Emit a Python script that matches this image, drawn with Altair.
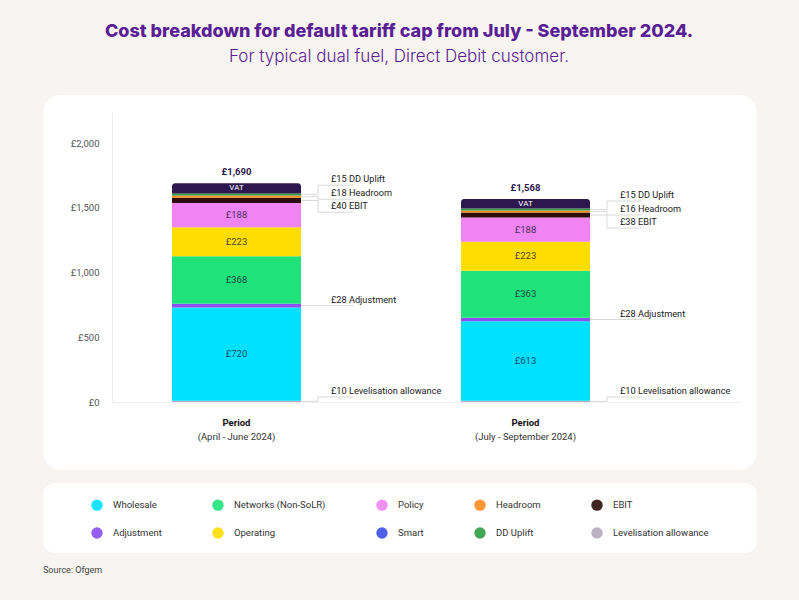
import altair as alt
import pandas as pd

# ---------------- data ----------------
periods = ["(April - June 2024)", "(July - September 2024)"]
components = ["Levelisation allowance", "Wholesale", "Adjustment", "Networks (Non-SoLR)",
              "Operating", "Policy", "EBIT", "Headroom", "DD Uplift", "VAT"]
apr_jun_values = [10, 720, 28, 368, 223, 188, 40, 18, 15, 80]
jul_sep_values = [10, 613, 28, 363, 223, 188, 38, 16, 15, 74]
totals = [1690, 1568]
legend_items = ["Wholesale", "Networks (Non-SoLR)", "Policy", "Headroom", "EBIT",
                "Adjustment", "Operating", "Smart", "DD Uplift", "Levelisation allowance"]
inside_labelled = ["Wholesale", "Networks (Non-SoLR)", "Operating", "Policy"]
callouts = ["DD Uplift", "Headroom", "EBIT", "Adjustment", "Levelisation allowance"]
y_ticks = [0, 500, 1000, 1500, 2000]

color_domain = ["Wholesale", "Networks (Non-SoLR)", "Policy", "Headroom", "EBIT",
                "Adjustment", "Operating", "Smart", "DD Uplift", "Levelisation allowance", "VAT"]
color_range = ["#00e1ff", "#1fe27b", "#ef84f2", "#ff8a1f", "#2c0d0b",
               "#8a4ef2", "#ffdd00", "#3b4fe6", "#2f9c45", "#b5a8b9", "#2d174f"]

TITLE = "Cost breakdown for default tariff cap from July - September 2024."
SUBTITLE = "For typical dual fuel, Direct Debit customer."
SOURCE = "Source: Ofgem"

# ---------------- layout ----------------
W, H = 799, 600
PAD_L, PAD_T = 112, 112
PLOT_W, PLOT_H = 630, 290
PAD_R = W - PAD_L - PLOT_W
PAD_B = H - PAD_T - PLOT_H
Y_MAX = 2240
PPU = PLOT_H / Y_MAX
BAR_LEFT0, BAR_STEP, BAR_W = 60, 289, 129
ELBOW, UNDER, TEXT_GAP = 17, 35, 13
TOP_CALLOUT_PX = {"DD Uplift": 2, "Headroom": 16, "EBIT": 29}
BOTTOM_CALLOUT_PX = 5

PURPLE = "#5a1e95"
FONT = "Inter"
SMALL = "Roboto"

rows, notes, tots = [], [], []
for i, (p, vals) in enumerate(zip(periods, [apr_jun_values, jul_sep_values])):
    left = BAR_LEFT0 + i * BAR_STEP
    base = 0
    for c, v in zip(components, vals):
        r = dict(period=p, component=c, value=v, y0=base, y1=base + v, ymid=base + v / 2,
                 x0=left, x1=left + BAR_W, xc=left + BAR_W / 2, label=f"£{v}")
        rows.append(r)
        if c in callouts:
            if c in TOP_CALLOUT_PX:
                line_y = totals[i] - TOP_CALLOUT_PX[c] / PPU
            elif c == "Adjustment":
                line_y = base + v / 2
            else:
                line_y = BOTTOM_CALLOUT_PX / PPU
            xe = left + BAR_W + ELBOW
            notes.append(dict(period=p, text=f"£{v} {c}", bx=left + BAR_W, ex=xe, ux=xe + UNDER,
                              tx=xe + TEXT_GAP, ymid=base + v / 2, line_y=line_y))
        base += v
    tots.append(dict(period=p, xc=left + BAR_W / 2, total=totals[i], label=f"£{totals[i]:,}"))

bars = pd.DataFrame(rows)
notes = pd.DataFrame(notes)
tots = pd.DataFrame(tots)

xs = alt.Scale(domain=[0, PLOT_W], nice=False, zero=False)
ys = alt.Scale(domain=[0, Y_MAX], nice=False)
one = pd.DataFrame({"k": [0]})

# background panels
panel = alt.Chart(one).mark_rect(color="white", cornerRadius=18).encode(
    x=alt.value(43 - PAD_L), x2=alt.value(757 - PAD_L),
    y=alt.value(95 - PAD_T), y2=alt.value(470 - PAD_T))
legend_panel = alt.Chart(one).mark_rect(color="white", cornerRadius=12).encode(
    x=alt.value(43 - PAD_L), x2=alt.value(757 - PAD_L),
    y=alt.value(483 - PAD_T), y2=alt.value(553 - PAD_T))

title_txt = alt.Chart(one).mark_text(text=TITLE, font=FONT, fontSize=18, fontWeight=800,
                                     color=PURPLE, align="center", baseline="middle").encode(
    x=alt.value(399 - PAD_L), y=alt.value(32 - PAD_T))
subtitle_txt = alt.Chart(one).mark_text(text=SUBTITLE, font=FONT, fontSize=17, fontWeight=300,
                                        color=PURPLE, align="center", baseline="middle").encode(
    x=alt.value(399 - PAD_L), y=alt.value(57 - PAD_T))
source_txt = alt.Chart(one).mark_text(text=SOURCE, font=SMALL, fontSize=9, color="#444",
                                      align="left", baseline="middle").encode(
    x=alt.value(43 - PAD_L), y=alt.value(570 - PAD_T))

base_bars = alt.Chart(bars)
seg = base_bars.transform_filter(alt.datum.component != "VAT").mark_bar().encode(
    x=alt.X("x0:Q", scale=xs, axis=alt.Axis(domain=True, domainColor="#f0f0f0", labels=False,
                                            ticks=False, grid=False, title=None, zindex=1)),
    x2="x1:Q",
    y=alt.Y("y0:Q", scale=ys, axis=alt.Axis(values=y_ticks, labelExpr="'£' + format(datum.value, ',')",
                                            title=None, grid=False, ticks=False, domain=True,
                                            domainColor="#eeeeee", labelPadding=13, labelFontSize=9.5,
                                            labelColor="#555", labelFont=SMALL, zindex=1)),
    y2="y1:Q",
    color=alt.Color("component:N", scale=alt.Scale(domain=color_domain, range=color_range),
                    legend=alt.Legend(values=legend_items, columns=5, orient="none",
                                      legendX=-21, legendY=387, direction="horizontal",
                                      symbolType="circle", symbolSize=130, symbolOpacity=0.9,
                                      symbolStrokeWidth=0, labelFont=SMALL, labelFontSize=9.5,
                                      labelColor="#333", labelOffset=10, columnPadding=50,
                                      rowPadding=16, padding=0, title=None, zindex=1)),
)
vat = base_bars.transform_filter(alt.datum.component == "VAT").mark_bar(
    cornerRadiusTopLeft=3, cornerRadiusTopRight=3, color="#2d174f").encode(
    x=alt.X("x0:Q", scale=xs), x2="x1:Q", y=alt.Y("y0:Q", scale=ys), y2="y1:Q")

inside = base_bars.transform_filter(
    alt.FieldOneOfPredicate(field="component", oneOf=inside_labelled)).mark_text(
    font=SMALL, fontSize=9.5, color="#1d1a3a", opacity=0.8).encode(
    x=alt.X("xc:Q", scale=xs), y=alt.Y("ymid:Q", scale=ys), text="label:N")
vat_txt = base_bars.transform_filter(alt.datum.component == "VAT").mark_text(
    font=SMALL, fontSize=8, color="white").encode(
    x=alt.X("xc:Q", scale=xs), y=alt.Y("ymid:Q", scale=ys), text=alt.value("VAT"))

total_txt = alt.Chart(tots).mark_text(font=SMALL, fontSize=9.5, fontWeight="bold", color="#2d174f",
                                      baseline="bottom", dy=-6).encode(
    x=alt.X("xc:Q", scale=xs), y=alt.Y("total:Q", scale=ys), text="label:N")

line_col = "#d9d9d9"
nb = alt.Chart(notes)
h1 = nb.mark_rule(color=line_col, strokeWidth=1).encode(
    x=alt.X("bx:Q", scale=xs), x2="ex:Q", y=alt.Y("ymid:Q", scale=ys))
v1 = nb.mark_rule(color=line_col, strokeWidth=1).encode(
    x=alt.X("ex:Q", scale=xs), y=alt.Y("ymid:Q", scale=ys), y2="line_y:Q")
h2 = nb.mark_rule(color=line_col, strokeWidth=1).encode(
    x=alt.X("ex:Q", scale=xs), x2="ux:Q", y=alt.Y("line_y:Q", scale=ys))
note_txt = nb.mark_text(font=SMALL, fontSize=9.2, color="#222", align="left", baseline="bottom",
                        dy=-1).encode(
    x=alt.X("tx:Q", scale=xs), y=alt.Y("line_y:Q", scale=ys), text="text:N")

period_bold = alt.Chart(tots).mark_text(font=SMALL, fontSize=9.5, fontWeight="bold", color="#111",
                                        text="Period").encode(
    x=alt.X("xc:Q", scale=xs), y=alt.value(423 - PAD_T))
period_name = alt.Chart(tots).mark_text(font=SMALL, fontSize=9.5, color="#333").encode(
    x=alt.X("xc:Q", scale=xs), y=alt.value(437 - PAD_T), text="period:N")

chart = alt.layer(panel, legend_panel, title_txt, subtitle_txt, source_txt, seg, vat, inside,
                  vat_txt, total_txt, h1, v1, h2, note_txt, period_bold, period_name).properties(
    width=PLOT_W, height=PLOT_H,
    padding={"left": PAD_L, "top": PAD_T, "right": PAD_R, "bottom": PAD_B},
    autosize=alt.AutoSizeParams(type="none"),
    background="#f8f4f1",
).configure_view(stroke=None)

chart.save("out.html", embed_options={"renderer": "svg", "actions": False})
